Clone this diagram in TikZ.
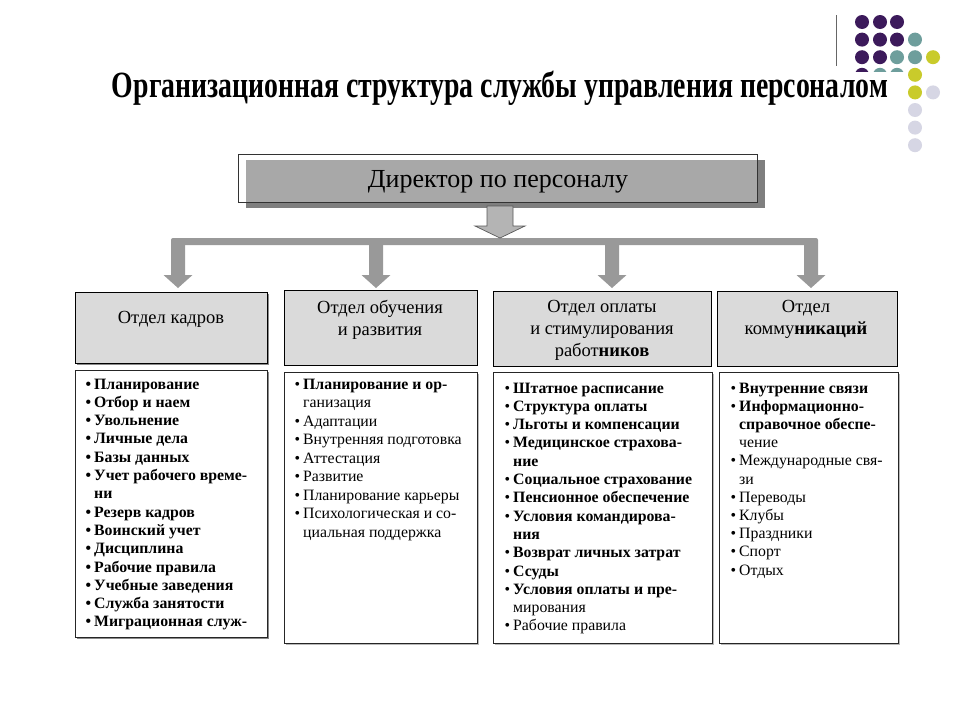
\documentclass[tikz,border=0pt]{standalone}
\usepackage{fontspec}
\setmainfont{Liberation Serif}
\usepackage{graphicx}
\definecolor{purp}{HTML}{3C1A5B}
\definecolor{tealdot}{HTML}{6E9E9C}
\definecolor{yeldot}{HTML}{C9CB2B}
\definecolor{lavdot}{HTML}{D6D6E4}
\definecolor{deptfill}{HTML}{DADADA}
\definecolor{dirfill}{HTML}{A8A8A8}
\definecolor{dirshadow}{HTML}{7F7F7F}
\definecolor{arrowgray}{HTML}{999999}
\definecolor{dirarrow}{HTML}{B4B4B4}
\definecolor{boxshadow}{HTML}{8A8A8A}
\newcommand\itm{\llap{\textbullet\hspace{3pt}}}
\begin{document}
\begin{tikzpicture}[x=1pt,y=-1pt,
  deptbox/.style={draw=black, line width=0.8pt, fill=deptfill, inner sep=0pt, anchor=north west},
  listbox/.style={draw=black!85, line width=0.9pt, fill=white, inner sep=0pt, anchor=north west},
  depttext/.style={font=\fontsize{18.5}{22}\selectfont, align=center, inner sep=0pt, anchor=north},
  itemtext/.style={font=\fontsize{15.8}{18}\selectfont, inner sep=0pt, anchor=base west},
  shadowrect/.style={fill=boxshadow}]
\fill[white] (0,0) rectangle (960,720);
\useasboundingbox (0,0) rectangle (960,720);

% decorative dots
\draw[black!60, line width=1pt] (836,15) -- (836,66);
\foreach \x in {862,880,897} \fill[purp] (\x,22) circle (7);
\foreach \x in {862,880,897} \fill[purp] (\x,39.6) circle (7);
\fill[tealdot] (915,39.6) circle (7);
\foreach \x in {862,880} \fill[purp] (\x,57.2) circle (7);
\foreach \x in {897,915} \fill[tealdot] (\x,57.2) circle (7);
\fill[yeldot] (933,57.2) circle (7);
\fill[purp] (862,74.8) circle (7);
\foreach \x in {880,897} \fill[tealdot] (\x,74.8) circle (7);
\fill[white] (845,72) rectangle (906,95);
\fill[yeldot] (915,74.8) circle (7);
\fill[yeldot] (915,92.4) circle (7);
\fill[lavdot] (933,92.4) circle (7);
\foreach \y in {110,127.6,145.2} \fill[lavdot] (915,\y) circle (7);

% title
\node[anchor=base, inner sep=0pt] (title) at (500,97)
  {\resizebox{776pt}{\height}{\fontsize{37}{40}\selectfont\bfseries Организационная структура службы управления персоналом}};

% director
\fill[white] (238,154) rectangle (757,202);
\fill[dirshadow] (246,160) rectangle (765,208);
\fill[dirfill] (246,160) rectangle (757,202);
\node[draw=black!80, line width=0.7pt, minimum width=519pt, minimum height=48pt, inner sep=0pt, anchor=north west] (dir) at (238,154) {};
\node[font=\fontsize{26}{30}\selectfont, anchor=base, inner sep=0pt] (dirtext) at (498,187) {Директор по персоналу};

% bar and arrows
\fill[arrowgray, rounded corners=2pt] (171,238) rectangle (818,245);
\foreach \c/\n in {178/1,376/2,612/3,811/4}{
  \coordinate (tip\n) at (\c,288);
  \fill[arrowgray] (\c-7,243) -- (\c+7,243) -- (\c+7,275) -- (\c+14.5,275) -- (tip\n) -- (\c-14.5,275) -- (\c-7,275) -- cycle;
}
\coordinate (dtip) at (500,238);
\draw[fill=dirarrow, draw=black!65, line width=0.7pt] (487,206) -- (513,206) -- (513,226) -- (525,226) -- (dtip) -- (475,226) -- (487,226) -- cycle;

% department boxes
\fill[boxshadow] (77,294) rectangle (269,365);
\node[deptbox, minimum width=192pt, minimum height=71pt] (d1) at (75,292) {};
\node[deptbox, minimum width=193pt, minimum height=75pt] (d2) at (284,290) {};
\node[deptbox, minimum width=218pt, minimum height=75pt] (d3) at (493,291) {};
\node[deptbox, minimum width=180pt, minimum height=75pt] (d4) at (717,291) {};
\node[depttext] (t1) at (171,311) {Отдел кадров};
\node[depttext] (t2) at (380,300) {Отдел обучения\\и развития};
\node[depttext] (t3) at (602,300) {Отдел оплаты\\и стимулирования\\работ\textbf{ников}};
\node[depttext] (t4) at (806,300) {Отдел\\комму\textbf{никаций}};

% list boxes
\fill[boxshadow] (77,372) rectangle (269,639);
\fill[boxshadow!60] (286,374) rectangle (479,645);
\fill[boxshadow!60] (495,374) rectangle (714,645);
\fill[boxshadow!60] (721,374) rectangle (900,645);
\node[listbox, minimum width=192pt, minimum height=267pt] (l1) at (75,370) {};
\node[listbox, minimum width=193pt, minimum height=271pt] (l2) at (284,372) {};
\node[listbox, minimum width=219pt, minimum height=271pt] (l3) at (493,372) {};
\node[listbox, minimum width=179pt, minimum height=271pt] (l4) at (719,372) {};

\foreach \txt [count=\i] in {{\itm Планирование},{\itm Отбор и наем},{\itm Увольнение},{\itm Личные дела},{\itm Базы данных},{\itm Учет рабочего време-},{ни},{\itm Резерв кадров},{\itm Воинский учет},{\itm Дисциплина},{\itm Рабочие правила},{\itm Учебные заведения},{\itm Служба занятости},{\itm Миграционная служ-}}
  \node[itemtext, font=\fontsize{15.8}{18}\selectfont\bfseries] (a\i) at (94,389+18.3*\i-18.3) {\txt};

\foreach \txt [count=\i] in {{\itm\textbf{Планирование и ор-}},{ганизация},{\itm Адаптации},{\itm Внутренняя подготовка},{\itm Аттестация},{\itm Развитие},{\itm Планирование карьеры},{\itm Психологическая и со-},{циальная поддержка}}
  \node[itemtext] (b\i) at (303,389+18.5*\i-18.5) {\txt};

\foreach \txt [count=\i] in {{\itm\textbf{Штатное расписание}},{\itm\textbf{Структура оплаты}},{\itm\textbf{Льготы и компенсации}},{\itm\textbf{Медицинское страхова-}},{\textbf{ние}},{\itm\textbf{Социальное страхование}},{\itm\textbf{Пенсионное обеспечение}},{\itm\textbf{Условия командирова-}},{\textbf{ния}},{\itm\textbf{Возврат личных затрат}},{\itm\textbf{Ссуды}},{\itm\textbf{Условия оплаты и пре-}},{мирования},{\itm Рабочие правила}}
  \node[itemtext] (c\i) at (513,393+18.3*\i-18.3) {\txt};

\foreach \txt [count=\i] in {{\itm\textbf{Внутренние связи}},{\itm\textbf{Информационно-}},{\textbf{справочное обеспе-}},{чение},{\itm Международные свя-},{зи},{\itm Переводы},{\itm Клубы},{\itm Праздники},{\itm Спорт},{\itm Отдых}}
  \node[itemtext] (e\i) at (739,393+18.2*\i-18.2) {\txt};
\end{tikzpicture}
\end{document}
